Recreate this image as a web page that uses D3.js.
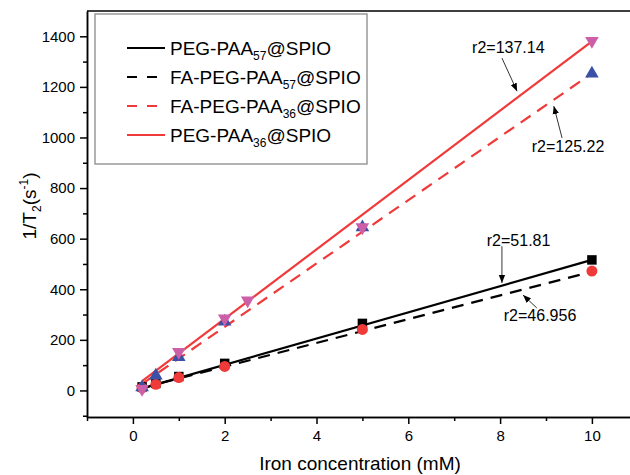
<!DOCTYPE html>
<html>
<head>
<meta charset="utf-8">
<script src="https://cdn.jsdelivr.net/npm/d3@7"></script>
<style>
  body { margin: 0; background: #fff; }
  svg { font-family: "Liberation Sans", Arial, sans-serif; }
  .axis path, .axis line { stroke: #000; stroke-width: 1.5; }
  .axis text { font-size: 15px; fill: #000; }
</style>
</head>
<body>
<div id="chart"></div>
<script>
// data
var names = ["PEG-PAA57@SPIO", "FA-PEG-PAA57@SPIO", "FA-PEG-PAA36@SPIO", "PEG-PAA36@SPIO"];
var xPeg57 = [0.2, 0.5, 1, 2, 5, 10];
var yPeg57 = [14, 28, 55, 107, 265, 516];
var xFa57 = [0.2, 0.5, 1, 2, 5, 10];
var yFa57 = [10, 24, 51, 95, 241, 472];
var xFa36 = [0.2, 0.5, 1, 2, 5, 10];
var yFa36 = [12, 59, 132, 272, 645, 1253];
var xPeg36 = [0.2, 1, 2, 2.5, 5, 10];
var yPeg36 = [6, 152, 285, 356, 645, 1382];
// linear fits
var slopes = [51.81, 46.956, 125.22, 137.14];
var intercepts = [-2, 0, 1, 9];
var fitRange = [0.2, 10];
var xTicks = [0, 2, 4, 6, 8, 10];
var yTicks = [0, 200, 400, 600, 800, 1000, 1200, 1400];
// annotations, in data units: text pos, arrow start, arrow end
var annText = ["r2=137.14", "r2=125.22", "r2=51.81", "r2=46.956"];
var annPos = [[7.39, 1334], [8.69, 942], [7.71, 570], [8.08, 274]];
var annFrom = [[8.04, 1314], [9.35, 998], [8.04, 570], [8.80, 326]];
var annTo = [[8.37, 1183], [9.17, 1124], [8.04, 425], [8.50, 377]];

var w = 630, h = 475;
var red = "#f03a3a", pink = "#cc5fa8", blue = "#3a51a6";

var svg = d3.select("#chart").append("svg").attr("width", w).attr("height", h);

var x = d3.scaleLinear().domain([-1, 11]).range([87, 87 + 12 * 45.9]);
var y = d3.scaleLinear().domain([-105, 1500]).range([417, 11]);

// top frame line
svg.append("line").attr("x1", x(-1)).attr("x2", w).attr("y1", y(1500)).attr("y2", y(1500))
  .attr("stroke", "#000").attr("stroke-width", 1.5);

// axes
svg.append("g").attr("class", "axis").attr("transform", "translate(0," + y(-105) + ")")
  .call(d3.axisBottom(x).tickValues(xTicks).tickSize(7).tickSizeOuter(0).tickPadding(6).tickFormat(d3.format("d")));
svg.append("g").attr("class", "axis").attr("transform", "translate(0," + y(-105) + ")")
  .call(d3.axisBottom(x).tickValues(d3.range(-1, 12, 2)).tickSize(4).tickSizeOuter(0).tickFormat(""));
svg.append("g").attr("class", "axis").attr("transform", "translate(" + x(-1) + ",0)")
  .call(d3.axisLeft(y).tickValues(yTicks).tickSize(7).tickSizeOuter(0).tickPadding(5).tickFormat(d3.format("d")));
svg.append("g").attr("class", "axis").attr("transform", "translate(" + x(-1) + ",0)")
  .call(d3.axisLeft(y).tickValues(d3.range(-100, 1500, 200)).tickSize(4).tickSizeOuter(0).tickFormat(""));

// axis titles
svg.append("text").attr("x", 360).attr("y", 470).attr("text-anchor", "middle")
  .style("font-size", "19px").text("Iron concentration (mM)");
var yt = svg.append("text").attr("transform", "translate(36,206) rotate(-90)")
  .attr("text-anchor", "middle").style("font-size", "19px");
yt.append("tspan").text("1/T");
yt.append("tspan").attr("dy", 5).style("font-size", "12px").text("2");
yt.append("tspan").attr("dy", -5).text("(s");
yt.append("tspan").attr("dy", -8).style("font-size", "12px").text("-1");
yt.append("tspan").attr("dy", 8).text(")");

// fit lines
var styles = [
  { color: "#000", dash: null },
  { color: "#000", dash: "12,8" },
  { color: red, dash: "12,8" },
  { color: red, dash: null }
];
var plot = svg.append("g");
slopes.forEach(function(s, i) {
  plot.append("line")
    .attr("x1", x(fitRange[0])).attr("y1", y(s * fitRange[0] + intercepts[i]))
    .attr("x2", x(fitRange[1])).attr("y2", y(s * fitRange[1] + intercepts[i]))
    .attr("stroke", styles[i].color).attr("stroke-width", 2.2)
    .attr("stroke-dasharray", styles[i].dash);
});

// markers
function pts(xs, ys) { return xs.map(function(d, i) { return [d, ys[i]]; }); }
var sq = d3.symbol().type(d3.symbolSquare).size(90);
var tri = d3.symbol().type(d3.symbolTriangle).size(80);
plot.selectAll(".sq").data(pts(xPeg57, yPeg57)).enter().append("path")
  .attr("d", sq).attr("fill", "#000")
  .attr("transform", function(d) { return "translate(" + x(d[0]) + "," + y(d[1]) + ")"; });
plot.selectAll(".ci").data(pts(xFa57, yFa57)).enter().append("circle")
  .attr("r", 5.5).attr("fill", red)
  .attr("cx", function(d) { return x(d[0]); }).attr("cy", function(d) { return y(d[1]); });
plot.selectAll(".tu").data(pts(xFa36, yFa36)).enter().append("path")
  .attr("d", tri).attr("fill", blue)
  .attr("transform", function(d) { return "translate(" + x(d[0]) + "," + y(d[1]) + ")"; });
plot.selectAll(".td").data(pts(xPeg36, yPeg36)).enter().append("path")
  .attr("d", tri).attr("fill", pink)
  .attr("transform", function(d) { return "translate(" + x(d[0]) + "," + y(d[1]) + ") rotate(180)"; });

// annotations
svg.append("defs").append("marker").attr("id", "arr")
  .attr("viewBox", "0 0 10 10").attr("refX", 10).attr("refY", 5)
  .attr("markerWidth", 8).attr("markerHeight", 8).attr("orient", "auto")
  .attr("markerUnits", "userSpaceOnUse")
  .append("path").attr("d", "M0,1 L10,5 L0,9 Z").attr("fill", "#000");
annText.forEach(function(t, i) {
  svg.append("text").attr("x", x(annPos[i][0])).attr("y", y(annPos[i][1]))
    .style("font-size", "16px").text(t);
  svg.append("line")
    .attr("x1", x(annFrom[i][0])).attr("y1", y(annFrom[i][1]))
    .attr("x2", x(annTo[i][0])).attr("y2", y(annTo[i][1]))
    .attr("stroke", "#000").attr("stroke-width", 0.8).attr("marker-end", "url(#arr)");
});

// legend
var lg = svg.append("g");
lg.append("rect").attr("x", 95).attr("y", 14).attr("width", 272).attr("height", 150)
  .attr("fill", "#fff").attr("stroke", "#999").attr("stroke-width", 1.5);
var parts = [["PEG-PAA", "57", "@SPIO"], ["FA-PEG-PAA", "57", "@SPIO"],
             ["FA-PEG-PAA", "36", "@SPIO"], ["PEG-PAA", "36", "@SPIO"]];
names.forEach(function(n, i) {
  var ly = 48 + i * 29;
  lg.append("line").attr("x1", 127).attr("x2", 165).attr("y1", ly).attr("y2", ly)
    .attr("stroke", styles[i].color).attr("stroke-width", 2)
    .attr("stroke-dasharray", i === 1 || i === 2 ? "10,10" : null);
  var t = lg.append("text").attr("x", 170).attr("y", ly + 7).style("font-size", "19px");
  t.append("tspan").text(parts[i][0]);
  t.append("tspan").attr("dy", 5).style("font-size", "12px").text(parts[i][1]);
  t.append("tspan").attr("dy", -5).text(parts[i][2]);
});
</script>
</body>
</html>
